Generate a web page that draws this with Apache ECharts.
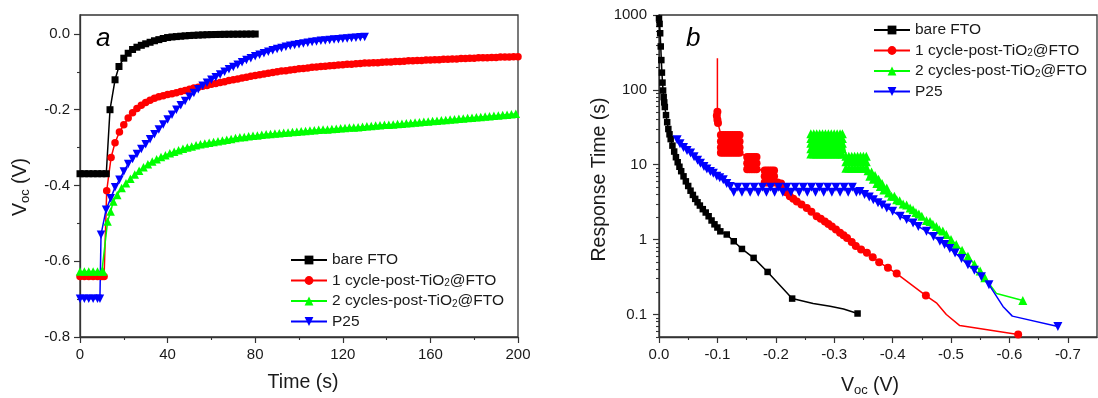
<!DOCTYPE html>
<html><head><meta charset="utf-8">
<script src="https://cdn.jsdelivr.net/npm/echarts@6/dist/echarts.min.js"></script>
<style>html,body{margin:0;padding:0;background:#fff}#c{width:1098px;height:398px}</style>
</head><body><div id="c"></div>
<script>
// ---------- names / colours ----------
const seriesNames = ['bare FTO', '1 cycle-post-TiO2@FTO', '2 cycles-post-TiO2@FTO', 'P25'];
const seriesColors = ['#000000', '#ff0000', '#00ff00', '#0000ff'];

// ---------- panel a : Voc (V) vs time (s), pairs [t, Voc] ----------
const aBare = [[0,-0.369],[2,-0.369],[4,-0.369],[6,-0.369],[8,-0.369],[10,-0.369],[12,-0.369],[13.7,-0.200],[16,-0.121],[17.8,-0.086],[20,-0.064],[22,-0.051],[24,-0.041],[26,-0.035],[28,-0.030],[30,-0.026],[32,-0.022],[34,-0.018],[36,-0.015],[38,-0.012],[40,-0.0095],[42,-0.008],[44,-0.007],[46,-0.006],[48,-0.005],[50,-0.0042],[52,-0.0036],[54,-0.003],[56,-0.0025],[58,-0.002],[60,-0.0017],[62,-0.0014],[64,-0.0012],[66,-0.001],[68,-0.0008],[70,-0.0007],[72,-0.0006],[74,-0.0005],[76,-0.0004],[78,-0.0003],[80,-0.0002]];
const aOneCycle = [[0,-0.640],[2,-0.640],[4,-0.640],[6,-0.640],[8,-0.640],[10,-0.640],[11,-0.640],[12.2,-0.414],[14.2,-0.326],[16,-0.287],[18,-0.259],[20,-0.240],[22,-0.222],[24,-0.208],[26,-0.197],[28,-0.188],[30,-0.181],[32,-0.175],[34,-0.170],[36,-0.166],[38,-0.163],[40,-0.160],[42,-0.158],[44,-0.155],[46,-0.152],[48,-0.149],[50,-0.146],[52,-0.143],[54,-0.141],[56,-0.138],[58,-0.136],[60,-0.133],[62,-0.131],[64,-0.128],[66,-0.126],[68,-0.123],[70,-0.121],[72,-0.119],[74,-0.116],[76,-0.114],[78,-0.112],[80,-0.110],[82,-0.108],[84,-0.106],[86,-0.104],[88,-0.102],[90,-0.100],[92,-0.098],[94,-0.097],[96,-0.095],[98,-0.094],[100,-0.092],[102,-0.091],[104,-0.090],[106,-0.088],[108,-0.087],[110,-0.086],[112,-0.085],[114,-0.084],[116,-0.083],[118,-0.082],[120,-0.081],[122,-0.080],[124,-0.080],[126,-0.079],[128,-0.078],[130,-0.077],[132,-0.077],[134,-0.076],[136,-0.076],[138,-0.075],[140,-0.074],[142,-0.074],[144,-0.073],[146,-0.073],[148,-0.072],[150,-0.071],[152,-0.071],[154,-0.070],[156,-0.070],[158,-0.069],[160,-0.069],[162,-0.068],[164,-0.068],[166,-0.067],[168,-0.067],[170,-0.066],[172,-0.066],[174,-0.065],[176,-0.065],[178,-0.064],[180,-0.064],[182,-0.063],[184,-0.063],[186,-0.063],[188,-0.062],[190,-0.062],[192,-0.061],[194,-0.061],[196,-0.061],[198,-0.060],[200,-0.060]];
const aTwoCycles = [[0,-0.627],[2,-0.627],[4,-0.627],[6,-0.627],[8,-0.627],[10,-0.627],[10.6,-0.627],[12.6,-0.495],[14,-0.469],[15.2,-0.442],[17,-0.425],[19,-0.407],[21,-0.394],[23,-0.382],[25,-0.371],[27,-0.361],[29,-0.352],[31,-0.344],[33,-0.337],[35,-0.331],[37,-0.325],[39,-0.320],[41,-0.315],[43,-0.311],[45,-0.307],[47,-0.303],[49,-0.300],[51,-0.297],[53,-0.294],[55,-0.291],[57,-0.289],[59,-0.287],[61,-0.285],[63,-0.283],[65,-0.281],[67,-0.279],[69,-0.277],[71,-0.275],[73,-0.273],[75,-0.272],[77,-0.270],[79,-0.269],[81,-0.268],[83,-0.266],[85,-0.265],[87,-0.264],[89,-0.263],[91,-0.262],[93,-0.261],[95,-0.260],[97,-0.259],[99,-0.258],[101,-0.257],[103,-0.256],[105,-0.255],[107,-0.254],[109,-0.253],[111,-0.252],[113,-0.252],[115,-0.251],[117,-0.250],[119,-0.249],[121,-0.248],[123,-0.247],[125,-0.247],[127,-0.246],[129,-0.245],[131,-0.244],[133,-0.243],[135,-0.242],[137,-0.241],[139,-0.240],[141,-0.240],[143,-0.239],[145,-0.238],[147,-0.237],[149,-0.236],[151,-0.235],[153,-0.234],[155,-0.233],[157,-0.232],[159,-0.231],[161,-0.230],[163,-0.229],[165,-0.228],[167,-0.227],[169,-0.226],[171,-0.225],[173,-0.224],[175,-0.223],[177,-0.222],[179,-0.221],[181,-0.220],[183,-0.219],[185,-0.218],[187,-0.217],[189,-0.216],[191,-0.215],[193,-0.214],[195,-0.213],[197,-0.212],[199,-0.211]];
const aP25 = [[0,-0.699],[2,-0.699],[4,-0.699],[6,-0.699],[8,-0.699],[9.1,-0.699],[9.6,-0.530],[11.9,-0.464],[14,-0.434],[16,-0.405],[18,-0.385],[20,-0.363],[22,-0.343],[24,-0.330],[26,-0.317],[28,-0.304],[30,-0.291],[32,-0.278],[34,-0.265],[36,-0.252],[38,-0.239],[40,-0.226],[42,-0.213],[44,-0.200],[46,-0.188],[48,-0.177],[50,-0.166],[52,-0.156],[54,-0.146],[56,-0.137],[58,-0.129],[60,-0.121],[62,-0.114],[64,-0.107],[66,-0.100],[68,-0.093],[70,-0.087],[72,-0.081],[74,-0.075],[76,-0.069],[78,-0.064],[80,-0.059],[82,-0.055],[84,-0.051],[86,-0.047],[88,-0.043],[90,-0.040],[92,-0.037],[94,-0.034],[96,-0.031],[98,-0.029],[100,-0.027],[102,-0.025],[104,-0.023],[106,-0.021],[108,-0.020],[110,-0.018],[112,-0.017],[114,-0.016],[116,-0.015],[118,-0.014],[120,-0.013],[122,-0.012],[124,-0.011],[126,-0.010],[128,-0.009],[130,-0.008]];

// ---------- panel b : response time (s) vs Voc (V), pairs [Voc, tau] ----------
const bBare = [[0,900],[-0.001,760],[-0.002,570],[-0.003,380],[-0.004,250],[-0.005,170],[-0.006,125],[-0.007,98],[-0.008,80],[-0.009,68],[-0.010,59],[-0.012,46],[-0.014,37],[-0.016,30],[-0.018,25.5],[-0.020,22],[-0.023,18],[-0.026,15],[-0.029,12.6],[-0.032,10.8],[-0.035,9.4],[-0.038,8.2],[-0.042,7.0],[-0.046,6.0],[-0.050,5.2],[-0.054,4.5],[-0.058,3.95],[-0.062,3.5],[-0.066,3.15],[-0.070,2.85],[-0.075,2.55],[-0.080,2.3],[-0.085,2.05],[-0.090,1.8],[-0.095,1.6],[-0.100,1.45],[-0.105,1.29],[-0.116,1.17],[-0.128,0.95],[-0.142,0.75],[-0.162,0.57],[-0.186,0.37],[-0.228,0.163],[-0.264,0.14],[-0.293,0.129],[-0.316,0.118],[-0.340,0.103]];
const bOneCycle = [[-0.100,265],[-0.100,51],[-0.099,45],[-0.100,40],[-0.101,36],
  [-0.106,25],[-0.106,20.5],[-0.106,17],[-0.106,14.5],[-0.110,14.5],[-0.110,17],[-0.110,20.5],[-0.110,25],
  [-0.114,25],[-0.114,20.5],[-0.114,17],[-0.114,14.5],[-0.118,14.5],[-0.118,17],[-0.118,20.5],[-0.118,25],
  [-0.122,25],[-0.122,20.5],[-0.122,17],[-0.122,14.5],[-0.126,14.5],[-0.126,17],[-0.126,20.5],[-0.126,25],
  [-0.130,25],[-0.130,20.5],[-0.130,17],[-0.130,14.5],[-0.134,14.5],[-0.134,17],[-0.134,20.5],[-0.134,25],
  [-0.138,25],[-0.138,20.5],[-0.138,17],[-0.138,14.5],
  [-0.151,12.7],[-0.151,10.5],[-0.151,8.7],[-0.155,8.7],[-0.155,10.5],[-0.155,12.7],[-0.159,12.7],[-0.159,10.5],[-0.159,8.7],
  [-0.163,8.7],[-0.163,10.5],[-0.163,12.7],[-0.167,12.7],[-0.167,10.5],[-0.167,8.7],
  [-0.181,8.4],[-0.181,7.0],[-0.181,5.8],[-0.185,5.8],[-0.185,7.0],[-0.185,8.4],[-0.189,8.4],[-0.189,7.0],[-0.189,5.8],
  [-0.193,5.8],[-0.193,7.0],[-0.193,8.4],[-0.197,8.4],[-0.197,7.0],[-0.197,5.8],
  [-0.203,5.8],[-0.206,5.2],[-0.209,5.6],[-0.211,5.0],
  [-0.213,4.9],[-0.218,4.3],[-0.224,3.8],[-0.230,3.5],[-0.236,3.24],[-0.244,2.95],[-0.253,2.65],[-0.261,2.35],[-0.270,2.05],[-0.277,1.9],[-0.284,1.75],[-0.290,1.62],[-0.296,1.5],[-0.303,1.36],[-0.310,1.23],[-0.316,1.14],[-0.322,1.05],[-0.330,0.93],[-0.337,0.82],[-0.346,0.74],[-0.356,0.665],[-0.366,0.58],[-0.377,0.50],[-0.392,0.42],[-0.407,0.352],[-0.457,0.179],[-0.475,0.143],[-0.492,0.10],[-0.515,0.071],[-0.615,0.054]];
const bTwoCycles = [
  [-0.260,25.9],[-0.260,22.4],[-0.260,19.3],[-0.260,16.4],[-0.260,13.9],[-0.265,13.9],[-0.265,16.4],[-0.265,19.3],[-0.265,22.4],[-0.265,25.9],
  [-0.270,25.9],[-0.270,22.4],[-0.270,19.3],[-0.270,16.4],[-0.270,13.9],[-0.275,13.9],[-0.275,16.4],[-0.275,19.3],[-0.275,22.4],[-0.275,25.9],
  [-0.280,25.9],[-0.280,22.4],[-0.280,19.3],[-0.280,16.4],[-0.280,13.9],[-0.285,13.9],[-0.285,16.4],[-0.285,19.3],[-0.285,22.4],[-0.285,25.9],
  [-0.290,25.9],[-0.290,22.4],[-0.290,19.3],[-0.290,16.4],[-0.290,13.9],[-0.295,13.9],[-0.295,16.4],[-0.295,19.3],[-0.295,22.4],[-0.295,25.9],
  [-0.300,25.9],[-0.300,22.4],[-0.300,19.3],[-0.300,16.4],[-0.300,13.9],[-0.305,13.9],[-0.305,16.4],[-0.305,19.3],[-0.305,22.4],[-0.305,25.9],
  [-0.310,25.9],[-0.310,22.4],[-0.310,19.3],[-0.310,16.4],[-0.310,13.9],[-0.314,13.9],[-0.314,16.4],[-0.314,19.3],[-0.314,22.4],[-0.314,25.9],
  [-0.320,13],[-0.320,11],[-0.320,9],[-0.325,9],[-0.325,11],[-0.325,13],[-0.330,13],[-0.330,11],[-0.330,9],[-0.335,9],[-0.335,11],[-0.335,13],
  [-0.340,13],[-0.340,11],[-0.340,9],[-0.345,9],[-0.345,11],[-0.345,13],[-0.350,13],[-0.350,11],[-0.350,9],[-0.355,9],[-0.355,11],[-0.355,13],
  [-0.358,8.3],[-0.361,7.0],[-0.364,8.0],[-0.367,6.4],[-0.370,7.2],[-0.373,5.6],[-0.376,6.4],[-0.379,5.1],[-0.382,5.6],[-0.385,4.6],[-0.390,4.9],[-0.393,4.2],
  [-0.398,3.8],[-0.403,3.8],[-0.407,3.4],[-0.412,3.3],[-0.418,3.0],[-0.424,2.9],[-0.430,2.65],[-0.435,2.5],[-0.440,2.3],[-0.445,2.2],[-0.450,2.05],[-0.458,1.8],[-0.464,1.75],[-0.469,1.6],[-0.475,1.5],[-0.480,1.35],[-0.486,1.3],[-0.492,1.17],[-0.500,1.0],[-0.509,0.86],[-0.519,0.72],[-0.529,0.60],[-0.540,0.47],[-0.550,0.38],[-0.558,0.31],[-0.578,0.19],[-0.623,0.154]];
const bP25 = [[-0.031,21.5],[-0.036,19],[-0.042,17],[-0.048,15.5],[-0.054,14.3],[-0.060,12.8],[-0.066,11.5],[-0.071,10.5],[-0.077,9.5],[-0.082,8.8],[-0.088,8.1],[-0.093,7.7],[-0.099,7.0],[-0.104,6.7],[-0.110,6.3],[-0.116,5.6],[-0.122,5.1],[-0.128,4.3],[-0.135,5.0],[-0.142,4.3],[-0.149,5.0],[-0.156,4.3],[-0.163,5.0],[-0.170,4.3],[-0.177,5.0],[-0.184,4.3],[-0.191,5.0],[-0.198,4.3],[-0.205,5.0],[-0.212,4.3],[-0.219,5.0],[-0.226,4.3],[-0.233,5.0],[-0.240,4.3],[-0.247,5.0],[-0.254,4.3],[-0.261,5.0],[-0.268,4.3],[-0.275,5.0],[-0.282,4.3],[-0.289,5.0],[-0.296,4.3],[-0.303,5.0],[-0.310,4.3],[-0.317,5.0],[-0.324,4.3],[-0.331,5.0],[-0.338,4.3],[-0.344,4.4],[-0.352,4.0],[-0.360,3.7],[-0.367,3.4],[-0.375,3.1],[-0.382,2.9],[-0.390,2.65],[-0.400,2.4],[-0.413,2.05],[-0.424,1.85],[-0.435,1.67],[-0.444,1.5],[-0.458,1.29],[-0.470,1.1],[-0.481,0.95],[-0.489,0.86],[-0.498,0.76],[-0.507,0.66],[-0.518,0.56],[-0.529,0.46],[-0.540,0.39],[-0.552,0.32],[-0.565,0.25],[-0.589,0.128],[-0.605,0.095],[-0.683,0.069]];
// points drawn by the line only (no symbol), as in the original
const bLineOnly = [[-0.264,0.14],[-0.293,0.129],[-0.316,0.118],[-0.100,265],[-0.475,0.143],[-0.492,0.10],[-0.515,0.071],[-0.578,0.19],[-0.589,0.128],[-0.605,0.095]];

// ---------- tick labels ----------
const aTimeTicks = [0, 40, 80, 120, 160, 200];
const aVocTicks = [-0.8, -0.6, -0.4, -0.2, 0];
const aVocMinor = [-0.7, -0.5, -0.3, -0.1];
const bVocTicks = [0, -0.1, -0.2, -0.3, -0.4, -0.5, -0.6, -0.7];
const bVocMinor = [-0.05, -0.15, -0.25, -0.35, -0.45, -0.55, -0.65];
const bTauTicks = [0.1, 1, 10, 100, 1000];

// ---------- build ----------
const FONT = '"Liberation Sans", Arial, sans-serif';
const AX = '#333333';
const TXT = '#1a1a1a';
const bTauMinor = [];
[0.01, 0.1, 1, 10, 100].forEach(d => { for (let k = 2; k <= 9; k++) bTauMinor.push(+(d * k).toPrecision(3)); });

const isLineOnly = v => bLineOnly.some(p => p[0] === v[0] && p[1] === v[1]);
const fmt1 = v => (Math.abs(v) < 1e-9 ? '0.0' : Number(v).toFixed(1));

const baseAxis = (extra) => Object.assign({
  type: 'value',
  axisLine: { show: true, onZero: false, lineStyle: { color: AX, width: 1.3 } },
  axisTick: { show: true, inside: false, length: 6, lineStyle: { color: AX, width: 1.2 } },
  axisLabel: { show: true, fontSize: 15, color: TXT, fontFamily: FONT, margin: 10 },
  splitLine: { show: false },
  minorSplitLine: { show: false },
  nameLocation: 'middle',
  nameTextStyle: { fontSize: 19.5, color: TXT, fontFamily: FONT }
}, extra);

const minorAxis = (extra) => Object.assign({
  type: 'value',
  axisLine: { show: false },
  axisLabel: { show: false },
  splitLine: { show: false },
  axisTick: { show: true, inside: false, length: 3, lineStyle: { color: AX, width: 1.1 } }
}, extra);

const richName = {
  v: { fontSize: 19.5, fontFamily: FONT, color: TXT, lineHeight: 22 },
  s: { fontSize: 13, fontFamily: FONT, color: TXT, lineHeight: 9, verticalAlign: 'bottom' }
};

const grids = [
  { left: 80, top: 15, width: 438, height: 322 },
  { left: 659, top: 15, width: 438, height: 322 },
  { left: 80, top: 15, width: 438, height: 322 },
  { left: 659, top: 15, width: 438, height: 322 }
].map(g => Object.assign({ show: true, borderColor: AX, borderWidth: 1.3, backgroundColor: 'transparent', containLabel: false, outerBoundsMode: 'none' }, g));
grids[2].show = false; grids[3].show = false;

const xAxes = [
  baseAxis({ gridIndex: 0, min: 0, max: 200, interval: 40,
    axisLabel: { fontSize: 15, color: TXT, fontFamily: FONT, margin: 10, customValues: aTimeTicks },
    minorTick: { show: true, splitNumber: 2, length: 3, lineStyle: { color: AX, width: 1.1 } },
    name: 'Time (s)', nameGap: 36,
    nameTextStyle: { fontSize: 19.5, color: TXT, fontFamily: FONT, padding: [0, 0, 0, 8] } }),
  baseAxis({ gridIndex: 1, min: -0.75, max: 0, inverse: true,
    axisLabel: { fontSize: 15, color: TXT, fontFamily: FONT, margin: 10, customValues: bVocTicks, formatter: fmt1 },
    axisTick: { show: true, inside: false, length: 6, customValues: bVocTicks, lineStyle: { color: AX, width: 1.2 } },
    name: '{v|V}{s|oc}{v| (V)}', nameGap: 38,
    nameTextStyle: { fontSize: 19.5, color: TXT, fontFamily: FONT, padding: [0, 16, 0, 0], rich: richName } }),
  minorAxis({ gridIndex: 2, min: 0, max: 200, axisTick: { show: false } }),
  minorAxis({ gridIndex: 3, min: -0.75, max: 0, inverse: true,
    axisTick: { show: true, inside: false, length: 3, customValues: bVocMinor, lineStyle: { color: AX, width: 1.1 } } })
];

const yAxes = [
  baseAxis({ gridIndex: 0, min: -0.8, max: 0.05,
    axisLabel: { fontSize: 15, color: TXT, fontFamily: FONT, margin: 10, customValues: aVocTicks, formatter: fmt1 },
    axisTick: { show: true, inside: false, length: 6, customValues: aVocTicks, lineStyle: { color: AX, width: 1.2 } },
    name: '{v|V}{s|oc}{v| (V)}', nameGap: 48, nameRotate: 90,
    nameTextStyle: { fontSize: 19.5, color: TXT, fontFamily: FONT, padding: [0, 22, 0, 0], rich: richName } }),
  baseAxis({ gridIndex: 1, type: 'log', logBase: 10, min: 0.05, max: 1000,
    axisLabel: { fontSize: 15, color: TXT, fontFamily: FONT, margin: 12, customValues: bTauTicks,
      formatter: v => (v < 1 ? '0.1' : String(Math.round(v))) },
    axisTick: { show: true, inside: false, length: 6, customValues: bTauTicks, lineStyle: { color: AX, width: 1.2 } },
    name: 'Response Time (s)', nameGap: 49, nameRotate: 90,
    nameTextStyle: { fontSize: 19.5, color: TXT, fontFamily: FONT, padding: [0, 7, 0, 0] } }),
  minorAxis({ gridIndex: 2, min: -0.8, max: 0.05,
    axisTick: { show: true, inside: false, length: 3, customValues: aVocMinor, lineStyle: { color: AX, width: 1.1 } } }),
  minorAxis({ gridIndex: 3, type: 'log', logBase: 10, min: 0.05, max: 1000,
    axisTick: { show: true, inside: false, length: 3, customValues: bTauMinor, lineStyle: { color: AX, width: 1.1 } } })
];

const aData = [aBare, aOneCycle, aTwoCycles, aP25];
const bData = [bBare, bOneCycle, bTwoCycles, bP25];
const symA = ['rect', 'circle', 'triangle', 'triangle'];
const sizeA = [7, 7.5, 8.5, 8.5];
const sizeB = [6.5, 8, 9, 9];
const rot = [0, 0, 0, 180];

const series = [];
aData.forEach((d, i) => series.push({
  name: seriesNames[i], type: 'line', xAxisIndex: 0, yAxisIndex: 0, data: d,
  symbol: symA[i], symbolSize: sizeA[i], symbolRotate: rot[i], showAllSymbol: true,
  color: seriesColors[i], lineStyle: { width: 1.5, color: seriesColors[i] },
  itemStyle: { color: seriesColors[i] }, animation: false, silent: true
}));
bData.forEach((d, i) => series.push({
  name: seriesNames[i], type: 'line', xAxisIndex: 1, yAxisIndex: 1, data: d,
  symbol: (v) => (isLineOnly(v) ? 'none' : symA[i]), symbolSize: sizeB[i], symbolRotate: rot[i], showAllSymbol: true,
  color: seriesColors[i], lineStyle: { width: 1.5, color: seriesColors[i] },
  itemStyle: { color: seriesColors[i] }, animation: false, silent: true
}));

const legendText = {
  fontSize: 15.5, fontFamily: FONT, color: TXT, lineHeight: 16,
  rich: { s: { fontSize: 10, fontFamily: FONT, color: TXT, lineHeight: 4, verticalAlign: 'bottom' } }
};
const legendFmt = n => n.replace('TiO2', 'TiO{s|2}');
const legends = [
  { left: 290, top: 252 },
  { left: 873, top: 22 }
].map(p => Object.assign({
  orient: 'vertical', data: seriesNames, itemWidth: 36, itemHeight: 11, itemGap: 4.5, padding: 0,
  textStyle: legendText, formatter: legendFmt, selectedMode: false
}, p));

const chart = echarts.init(document.getElementById('c'), null, { renderer: 'canvas' });
chart.setOption({
  animation: false,
  backgroundColor: '#ffffff',
  textStyle: { fontFamily: FONT },
  grid: grids,
  xAxis: xAxes,
  yAxis: yAxes,
  legend: legends,
  series: series,
  graphic: [
    { type: 'text', x: 96, y: 39, style: { text: 'a', font: 'italic 26px "Liberation Sans", Arial', fill: '#000', verticalAlign: 'middle' } },
    { type: 'text', x: 686, y: 39, style: { text: 'b', font: 'italic 26px "Liberation Sans", Arial', fill: '#000', verticalAlign: 'middle' } }
  ]
});
</script>
</body></html>
